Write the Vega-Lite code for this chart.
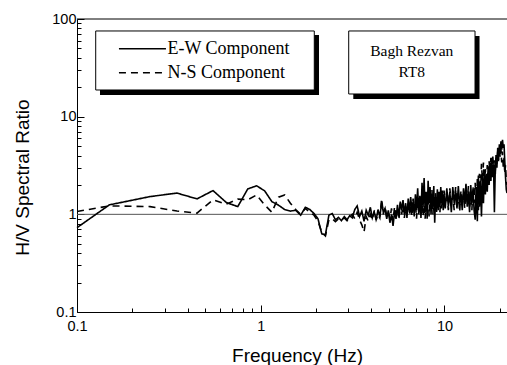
{
  "$schema": "https://vega.github.io/schema/vega-lite/v6.json",
  "width": 430,
  "height": 293,
  "autosize": {"type": "none"},
  "padding": {"left": 77, "top": 19, "right": 0, "bottom": 53},
  "background": "white",
  "config": {
    "view": {"stroke": null},
    "axis": {"labelFont": "Liberation Sans", "titleFont": "Liberation Sans"},
    "legend": {"labelFont": "Liberation Serif"}
  },
  "layer": [
    {
      "data": {"values": [{}]},
      "mark": {"type": "rect", "color": "black"},
      "encoding": {
        "x": {"datum": 0.1334, "type": "quantitative"},
        "x2": {"datum": 2.076},
        "y": {"datum": 68.6, "type": "quantitative"},
        "y2": {"datum": 16.67}
      }
    },
    {
      "data": {"values": [{}]},
      "mark": {"type": "rect", "fill": "white", "stroke": "black", "strokeWidth": 1},
      "encoding": {
        "x": {"datum": 0.12642, "type": "quantitative"},
        "x2": {"datum": 1.9568},
        "y": {"datum": 75.4, "type": "quantitative"},
        "y2": {"datum": 18.755}
      }
    },
    {
      "data": {"values": [{}]},
      "mark": {"type": "rect", "color": "black"},
      "encoding": {
        "x": {"datum": 3.19, "type": "quantitative"},
        "x2": {"datum": 15.52},
        "y": {"datum": 66.97, "type": "quantitative"},
        "y2": {"datum": 15.17}
      }
    },
    {
      "data": {"values": [{}]},
      "mark": {"type": "rect", "fill": "white", "stroke": "black", "strokeWidth": 1},
      "encoding": {
        "x": {"datum": 3.012, "type": "quantitative"},
        "x2": {"datum": 14.67},
        "y": {"datum": 75.4, "type": "quantitative"},
        "y2": {"datum": 17.07}
      }
    },
    {
      "data": {"values": [{}]},
      "mark": {"type": "text", "text": "Bagh Rezvan", "font": "Liberation Serif", "fontSize": 15.5, "color": "black", "align": "center", "baseline": "middle"},
      "encoding": {
        "x": {"datum": 6.635, "type": "quantitative"},
        "y": {"datum": 47.04, "type": "quantitative"}
      }
    },
    {
      "data": {"values": [{}]},
      "mark": {"type": "text", "text": "RT8", "font": "Liberation Serif", "fontSize": 15.5, "color": "black", "align": "center", "baseline": "middle"},
      "encoding": {
        "x": {"datum": 6.635, "type": "quantitative"},
        "y": {"datum": 28.87, "type": "quantitative"}
      }
    },
    {
      "data": {"values": [{}]},
      "mark": {"type": "rule", "color": "#555555", "strokeWidth": 1},
      "encoding": {"y": {"datum": 1, "type": "quantitative"}}
    },
    {
      "data": {"values": [{}]},
      "mark": {"type": "rule", "color": "black", "strokeWidth": 1},
      "encoding": {"y": {"datum": 100, "type": "quantitative"}}
    },
    {
      "data": {"values": [
        {"f":0.1,"ew":0.73,"ns":1.07},
        {"f":0.15,"ew":1.25,"ns":1.22},
        {"f":0.25,"ew":1.52,"ns":1.2},
        {"f":0.35,"ew":1.65,"ns":1.08},
        {"f":0.45,"ew":1.44,"ns":1.03},
        {"f":0.55,"ew":1.75,"ns":1.41},
        {"f":0.65,"ew":1.32,"ns":1.27},
        {"f":0.75,"ew":1.2,"ns":1.43},
        {"f":0.85,"ew":1.82,"ns":1.41},
        {"f":0.95,"ew":1.96,"ns":1.58},
        {"f":1.05,"ew":1.74,"ns":1.25},
        {"f":1.15,"ew":1.35,"ns":1.05},
        {"f":1.25,"ew":1.24,"ns":1.5},
        {"f":1.35,"ew":1.12,"ns":1.58},
        {"f":1.45,"ew":1.08,"ns":1.3},
        {"f":1.55,"ew":1.1,"ns":1.12},
        {"f":1.65,"ew":0.98,"ns":1.0},
        {"f":1.75,"ew":1.18,"ns":1.15},
        {"f":1.85,"ew":1.12,"ns":1.05},
        {"f":1.95,"ew":1.02,"ns":0.98},
        {"f":2.05,"ew":0.9,"ns":0.85},
        {"f":2.15,"ew":0.63,"ns":0.65},
        {"f":2.25,"ew":0.62,"ns":0.6},
        {"f":2.35,"ew":0.98,"ns":0.88},
        {"f":2.45,"ew":1.02,"ns":0.9},
        {"f":2.55,"ew":0.88,"ns":0.84},
        {"f":2.65,"ew":0.93,"ns":0.9},
        {"f":2.75,"ew":0.86,"ns":0.88},
        {"f":2.85,"ew":0.95,"ns":0.92},
        {"f":2.95,"ew":0.88,"ns":0.86},
        {"f":3.05,"ew":0.97,"ns":0.95},
        {"f":3.15,"ew":0.92,"ns":1.0},
        {"f":3.25,"ew":1.12,"ns":0.9},
        {"f":3.35,"ew":1.22,"ns":1.05},
        {"f":3.45,"ew":0.95,"ns":0.88},
        {"f":3.55,"ew":1.08,"ns":0.78},
        {"f":3.65,"ew":0.85,"ns":0.66},
        {"f":3.75,"ew":1.1,"ns":0.95},
        {"f":3.85,"ew":0.98,"ns":0.85},
        {"f":3.95,"ew":1.18,"ns":1.0},
        {"f":4.05,"ew":0.92,"ns":0.88},
        {"f":4.15,"ew":1.05,"ns":1.1},
        {"f":4.25,"ew":0.88,"ns":0.88},
        {"f":4.35,"ew":1.12,"ns":1.0},
        {"f":4.45,"ew":0.95,"ns":0.92},
        {"f":4.55,"ew":1.3,"ns":1.45},
        {"f":4.65,"ew":1.05,"ns":1.0},
        {"f":4.75,"ew":1.15,"ns":1.2},
        {"f":4.85,"ew":0.9,"ns":0.95},
        {"f":4.95,"ew":1.1,"ns":1.05},
        {"f":5.05,"ew":0.82,"ns":0.9},
        {"f":5.15,"ew":1.0,"ns":1.15},
        {"f":5.25,"ew":0.76,"ns":0.85},
        {"f":5.35,"ew":1.05,"ns":1.2},
        {"f":5.45,"ew":0.9,"ns":0.95},
        {"f":5.55,"ew":1.25,"ns":1.1},
        {"f":5.65,"ew":0.95,"ns":0.88},
        {"f":5.75,"ew":1.35,"ns":1.3},
        {"f":5.85,"ew":1.1,"ns":1.0},
        {"f":5.95,"ew":1.4,"ns":1.25},
        {"f":6.05,"ew":1.0,"ns":0.92},
        {"f":6.15,"ew":1.3,"ns":1.2},
        {"f":6.25,"ew":0.92,"ns":0.98},
        {"f":6.35,"ew":1.45,"ns":1.35},
        {"f":6.45,"ew":1.05,"ns":1.0},
        {"f":6.55,"ew":1.5,"ns":1.25},
        {"f":6.65,"ew":1.1,"ns":0.95},
        {"f":6.75,"ew":1.35,"ns":1.45},
        {"f":6.85,"ew":0.95,"ns":1.1},
        {"f":6.95,"ew":1.6,"ns":1.3},
        {"f":7.05,"ew":1.1,"ns":0.9},
        {"f":7.15,"ew":1.85,"ns":1.5},
        {"f":7.25,"ew":1.0,"ns":1.05},
        {"f":7.35,"ew":1.55,"ns":1.4},
        {"f":7.45,"ew":0.92,"ns":1.0},
        {"f":7.55,"ew":2.1,"ns":1.6},
        {"f":7.65,"ew":1.2,"ns":0.95},
        {"f":7.75,"ew":2.35,"ns":1.45},
        {"f":7.85,"ew":1.05,"ns":0.9},
        {"f":7.95,"ew":1.7,"ns":1.5},
        {"f":8.05,"ew":0.9,"ns":1.1},
        {"f":8.15,"ew":2.2,"ns":1.7},
        {"f":8.25,"ew":1.3,"ns":0.95},
        {"f":8.35,"ew":1.9,"ns":1.55},
        {"f":8.45,"ew":1.0,"ns":1.15},
        {"f":8.55,"ew":1.6,"ns":1.8},
        {"f":8.65,"ew":1.2,"ns":1.0},
        {"f":8.75,"ew":1.95,"ns":1.5},
        {"f":8.85,"ew":0.82,"ns":1.1},
        {"f":8.95,"ew":1.5,"ns":1.65},
        {"f":9.05,"ew":1.15,"ns":1.0},
        {"f":9.15,"ew":1.8,"ns":1.45},
        {"f":9.25,"ew":1.1,"ns":1.2},
        {"f":9.35,"ew":1.7,"ns":1.55},
        {"f":9.45,"ew":1.2,"ns":1.05},
        {"f":9.55,"ew":1.9,"ns":1.7},
        {"f":9.65,"ew":1.3,"ns":1.15},
        {"f":9.75,"ew":1.75,"ns":1.5},
        {"f":9.85,"ew":1.1,"ns":1.2},
        {"f":9.95,"ew":1.6,"ns":1.75},
        {"f":10.1,"ew":1.15,"ns":1.3},
        {"f":10.3,"ew":1.85,"ns":1.6},
        {"f":10.5,"ew":1.2,"ns":1.1},
        {"f":10.7,"ew":1.7,"ns":1.85},
        {"f":10.9,"ew":1.05,"ns":1.25},
        {"f":11.1,"ew":1.9,"ns":1.55},
        {"f":11.3,"ew":1.3,"ns":1.1},
        {"f":11.5,"ew":1.75,"ns":1.9},
        {"f":11.7,"ew":1.15,"ns":1.2},
        {"f":11.9,"ew":1.95,"ns":1.65},
        {"f":12.1,"ew":1.25,"ns":1.05},
        {"f":12.3,"ew":1.6,"ns":1.75},
        {"f":12.5,"ew":1.1,"ns":1.3},
        {"f":12.7,"ew":1.85,"ns":1.6},
        {"f":12.9,"ew":1.3,"ns":1.15},
        {"f":13.1,"ew":2.05,"ns":1.8},
        {"f":13.3,"ew":1.2,"ns":1.35},
        {"f":13.5,"ew":1.7,"ns":1.95},
        {"f":13.7,"ew":1.05,"ns":1.2},
        {"f":13.9,"ew":2.0,"ns":1.7},
        {"f":14.1,"ew":1.3,"ns":1.1},
        {"f":14.3,"ew":1.8,"ns":1.9},
        {"f":14.5,"ew":1.1,"ns":1.3},
        {"f":14.7,"ew":0.88,"ns":2.1},
        {"f":14.9,"ew":1.9,"ns":1.0},
        {"f":15.1,"ew":0.85,"ns":2.3},
        {"f":15.3,"ew":2.5,"ns":1.1},
        {"f":15.5,"ew":1.2,"ns":2.6},
        {"f":15.7,"ew":2.2,"ns":1.4},
        {"f":15.9,"ew":0.95,"ns":3.3},
        {"f":16.1,"ew":2.4,"ns":2.2},
        {"f":16.3,"ew":1.3,"ns":3.4},
        {"f":16.5,"ew":2.8,"ns":1.8},
        {"f":16.7,"ew":1.6,"ns":2.9},
        {"f":16.9,"ew":2.6,"ns":2.0},
        {"f":17.1,"ew":1.7,"ns":3.2},
        {"f":17.3,"ew":3.0,"ns":2.3},
        {"f":17.5,"ew":2.0,"ns":3.5},
        {"f":17.7,"ew":3.4,"ns":2.6},
        {"f":17.9,"ew":2.2,"ns":3.8},
        {"f":18.1,"ew":3.6,"ns":2.8},
        {"f":18.3,"ew":2.4,"ns":4.1},
        {"f":18.5,"ew":3.2,"ns":3.0},
        {"f":18.7,"ew":1.05,"ns":3.6},
        {"f":18.9,"ew":2.8,"ns":2.5},
        {"f":19.1,"ew":3.8,"ns":4.2},
        {"f":19.3,"ew":3.0,"ns":3.3},
        {"f":19.5,"ew":4.8,"ns":4.5},
        {"f":19.7,"ew":3.6,"ns":3.5},
        {"f":19.9,"ew":5.2,"ns":4.9},
        {"f":20.1,"ew":4.2,"ns":3.8},
        {"f":20.3,"ew":5.6,"ns":4.6},
        {"f":20.5,"ew":4.6,"ns":3.4},
        {"f":20.7,"ew":5.8,"ns":4.4},
        {"f":20.9,"ew":4.8,"ns":3.0},
        {"f":21.1,"ew":5.2,"ns":3.8},
        {"f":21.3,"ew":3.5,"ns":2.6},
        {"f":21.5,"ew":2.4,"ns":3.2},
        {"f":21.7,"ew":1.8,"ns":2.2},
        {"f":21.9,"ew":1.65,"ns":2.0}
      ]},
      "transform": [{"fold": ["ns", "ew"], "as": ["c", "v"]}],
      "mark": {"type": "line", "color": "black", "strokeWidth": 1.6},
      "encoding": {
        "x": {
          "field": "f", "type": "quantitative",
          "scale": {"type": "log", "domain": [0.1, 21.9], "nice": false},
          "axis": {
            "title": "Frequency (Hz)",
            "values": [0.1,0.2,0.3,0.4,0.5,0.6,0.7,0.8,0.9,1,2,3,4,5,6,7,8,9,10,20],
            "format": "~g",
            "labelExpr": "(datum.value == 0.1 || datum.value == 1 || datum.value == 10) ? datum.label : ''",
            "labelFlush": false, "labelOverlap": false, "labelBound": false,
            "labelFontSize": 14.5, "labelColor": "black", "labelPadding": 14,
            "tickColor": "black", "tickWidth": 1,
            "tickSize": {"condition": {"test": "datum.value == 0.1 || datum.value == 1 || datum.value == 10", "value": -7}, "value": -4},
            "domainColor": "black", "domainWidth": 1, "grid": false,
            "titleFontSize": 19, "titleFontWeight": "normal", "titleColor": "black",
            "titleX": 220, "titleY": 43, "titleBaseline": "middle", "titleAlign": "center"
          }
        },
        "y": {
          "field": "v", "type": "quantitative",
          "scale": {"type": "log", "domain": [0.1, 100], "nice": false},
          "axis": {
            "title": "H/V Spectral Ratio",
            "values": [0.1,0.2,0.3,0.4,0.5,0.6,0.7,0.8,0.9,1,2,3,4,5,6,7,8,9,10,20,30,40,50,60,70,80,90,100],
            "format": "~g",
            "labelExpr": "(datum.value == 0.1 || datum.value == 1 || datum.value == 10 || datum.value == 100) ? datum.label : ''",
            "labelFlush": false, "labelOverlap": false, "labelBound": false,
            "labelFontSize": 14.5, "labelColor": "black", "labelPadding": 8,
            "tickColor": "black", "tickWidth": 1,
            "tickSize": {"condition": {"test": "datum.value == 0.1 || datum.value == 1 || datum.value == 10 || datum.value == 100", "value": -7}, "value": -4},
            "domainColor": "black", "domainWidth": 1, "grid": false,
            "titleFontSize": 19, "titleFontWeight": "normal", "titleColor": "black",
            "titleX": -55, "titleY": 158, "titleBaseline": "middle", "titleAlign": "center"
          }
        },
        "strokeDash": {
          "field": "c", "type": "nominal",
          "scale": {"domain": ["ew", "ns"], "range": [[1, 0], [7, 5]]},
          "legend": {
            "orient": "none", "legendX": 18.7, "legendY": 12, "title": null,
            "labelExpr": "datum.value == 'ew' ? 'E-W Component' : 'N-S Component'",
            "labelFont": "Liberation Serif", "labelFontSize": 18, "labelColor": "black",
            "symbolType": "M-15.67,0H15.67", "symbolSize": 9, "symbolStrokeWidth": 1.5, "symbolStrokeColor": "black", "symbolFillColor": "transparent",
            "padding": 8.75, "symbolOffset": 29, "labelOffset": 16, "rowPadding": 6,
            "cornerRadius": 0
          }
        }
      }
    }
  ]
}
